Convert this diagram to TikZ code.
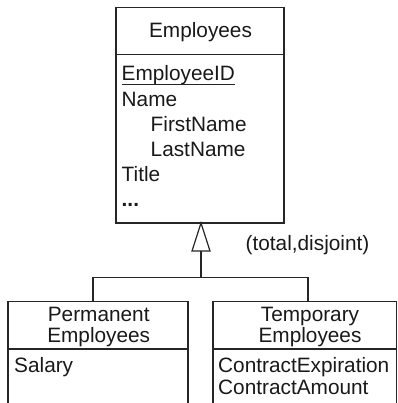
\documentclass[tikz,border=0pt]{standalone}
\usepackage{fontspec}
\setmainfont{Liberation Sans}
\begin{document}
\begin{tikzpicture}[x=1pt,y=-1pt,
  umlline/.style={draw=black!85,line width=1.2pt},
  txt/.style={inner sep=0pt,font=\fontsize{20.8}{23}\selectfont,text=black!90},
  attr/.style={txt,anchor=base west},
  ttl/.style={txt,anchor=base}]
\useasboundingbox (0,0) rectangle (397,403);

% superclass box
\coordinate (empNW) at (116,7.3);
\coordinate (empSE) at (284,223);
\draw[umlline] (empNW) rectangle (empSE);
\draw[umlline] (116,54.5) -- (284,54.5);
\node[ttl] (empT) at (200.5,37.5) {Employees};
\node[attr] (eid) at (121.5,81) {EmployeeID};
\draw[umlline,line width=1pt] ([yshift=-3.2pt]eid.base west) -- ([yshift=-3.2pt]eid.base east);
\node[attr] (nm)  at (121.5,106.2) {Name};
\node[attr] (fn)  at (150.5,131.4) {FirstName};
\node[attr] (ln)  at (150.5,156.6) {LastName};
\node[attr] (tt)  at (121.5,181.7) {Title};
\node[attr,font=\fontsize{20.8}{23}\selectfont\bfseries] (dots) at (121.5,206.5) {...};

% subclass boxes (open at the bottom)
\draw[umlline] (8,403) -- (8,301.7) -- (188,301.7) -- (188,403);
\draw[umlline] (8,349) -- (188,349);
\coordinate (permTop) at (93,301.7);
\node[ttl] (perm1) at (98.7,321.5) {Permanent};
\node[ttl] (perm2) at (98.7,342.5) {Employees};
\node[attr] (sal) at (14,372.5) {Salary};

\draw[umlline] (213,403) -- (213,301.7) -- (396.5,301.7) -- (396.5,403);
\draw[umlline] (213,349) -- (396.5,349);
\coordinate (tempTop) at (308,301.7);
\node[ttl] (temp1) at (310,321.5) {Temporary};
\node[ttl] (temp2) at (310,342.5) {Employees};
\node[attr] (ce) at (218,372.5) {ContractExpiration};
\node[attr] (ca) at (218,394) {ContractAmount};

% generalization
\coordinate (apex) at (201,223);
\coordinate (base) at (201,251);
\coordinate (bar) at (201,277.7);
\draw[umlline,fill=white,line join=miter] (apex) -- (192,251) -- (210,251) -- cycle;
\draw[umlline] (base) -- (bar);
\draw[umlline] (permTop) |- (bar) -| (tempTop);
\node[ttl] (gen) at (307.5,250) {(total,disjoint)};
\end{tikzpicture}
\end{document}
